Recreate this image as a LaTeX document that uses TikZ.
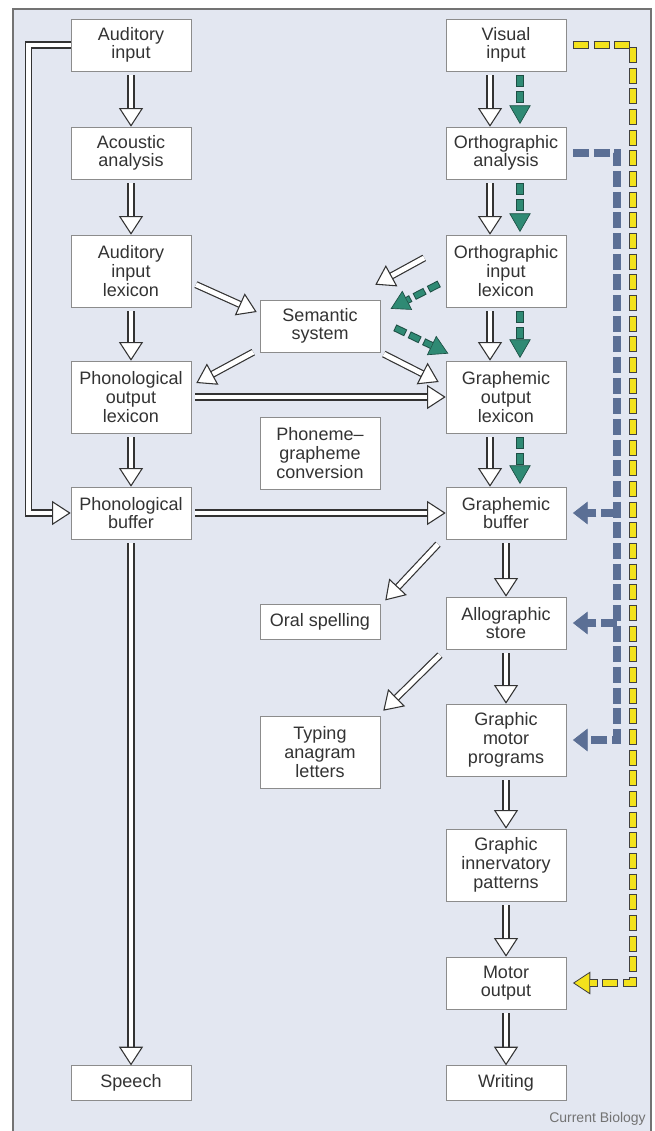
\documentclass[tikz,border=0pt]{standalone}
\usepackage{fontspec}
\setmainfont{Liberation Sans}
\usetikzlibrary{arrows.meta}
\definecolor{panel}{HTML}{E3E7F1}
\definecolor{ink}{HTML}{333333}
\definecolor{grnc}{HTML}{2F8A74}
\definecolor{grnd}{HTML}{1D4F44}
\definecolor{bluc}{HTML}{5B6F95}
\definecolor{ylwc}{HTML}{F3E21C}

\begin{document}
\begin{tikzpicture}[x=0.75pt, y=-0.75pt, font=\fontsize{13.5}{14}\selectfont,
                    box/.style={draw=black!45, fill=white, text=ink, align=center,
                                minimum width=90pt, minimum height=39pt, inner sep=1pt},
                    tall/.style={box, minimum height=54pt},
                    low/.style={box, minimum height=26pt},
                    hol/.style={draw=black!80, line width=0.9pt, double=white, double distance=3.6pt,
                                shorten <=3pt,
                                -{Triangle[length=14pt, width=18pt, fill=white, line width=0.8pt]}},
                    grn/.style={draw=grnd, line width=5.5pt, dash pattern=on 9pt off 3pt,
                                shorten <=3pt, shorten >=2pt,
                                -{Triangle[length=14pt, width=16pt, fill=grnc, line width=0.5pt]},
                                postaction={draw=grnc, line width=4pt, -, shorten >=16pt,
                                            dash pattern=on 7.5pt off 4.5pt, dash phase=11.25pt}},
                    blu/.style={draw=bluc, line width=6pt, dash pattern=on 12pt off 3.5pt, shorten >=5pt,
                                -{Triangle[length=11pt, width=17pt, line width=0.5pt]}},
                    ylw/.style={draw=black!75, line width=6pt, dash pattern=on 12pt off 3.5pt,
                                shorten <=5pt, shorten >=5pt,
                                -{Triangle[length=13pt, width=17pt, fill=ylwc, line width=0.6pt]},
                                postaction={draw=ylwc, line width=4.6pt, -, shorten >=18pt,
                                            dash pattern=on 10.6pt off 4.9pt, dash phase=14.8pt}}]
  \path[use as bounding box, fill=white] (0,0) rectangle (655,1131);
  \fill[panel] (13,9) rectangle (651,1131);
  \draw[black!55, line width=0.8pt] (13,1131) -- (13,9) -- (651,9) -- (651,1131);

  % spoken side
  \node[box]  (ai)  at (131,45)   {Auditory\\input};
  \node[box]  (aa)  at (131,153)  {Acoustic\\analysis};
  \node[tall] (ail) at (131,271)  {Auditory\\input\\lexicon};
  \node[tall] (pol) at (131,397)  {Phonological\\output\\lexicon};
  \node[box]  (pb)  at (131,513)  {Phonological\\buffer};
  \node[low]  (sp)  at (131,1083) {Speech};
  % middle
  \node[box]  (ss)  at (320,326)  {Semantic\\system};
  \node[tall] (pgc) at (320,453)  {Phoneme--\\grapheme\\conversion};
  \node[low]  (os)  at (320,622)  {Oral spelling};
  \node[tall] (tal) at (320,752)  {Typing\\anagram\\letters};
  % written side
  \node[box]  (vi)  at (506,45)   {Visual\\input};
  \node[box]  (oa)  at (506,153)  {Orthographic\\analysis};
  \node[tall] (oil) at (506,271)  {Orthographic\\input\\lexicon};
  \node[tall] (gol) at (506,397)  {Graphemic\\output\\lexicon};
  \node[box]  (gb)  at (506,513)  {Graphemic\\buffer};
  \node[box]  (as)  at (506,623)  {Allographic\\store};
  \node[tall] (gmp) at (506,740)  {Graphic\\motor\\programs};
  \node[tall] (gip) at (506,865)  {Graphic\\innervatory\\patterns};
  \node[box]  (mo)  at (506,983)  {Motor\\output};
  \node[low]  (wr)  at (506,1083) {Writing};

  \foreach \a/\b in {ai/aa, aa/ail, ail/pol, pol/pb, gb/as, as/gmp, gmp/gip, gip/mo, mo/wr}
    \draw[hol] (\a) -- (\b);
  \foreach \a/\b in {vi/oa, oa/oil, oil/gol, gol/gb} {
    \draw[hol] ([shift={(-16,0)}]\a.south) -- ([shift={(-16,0)}]\b.north);
    \draw[grn] ([shift={(14,0)}]\a.south) -- ([shift={(14,0)}]\b.north);
  }
  \draw[hol] (pol) -- (gol);
  \draw[hol] (pb) -- (gb);
  \draw[hol] (pb) -- (sp);
  \draw[hol, shorten <=0pt] (ai.west) -- ++(-42,0) |- (pb.west);
  \draw[hol] ([shift={(1,12)}]ail.east) -- ([shift={(-3,-14)}]ss.west);
  \draw[hol] ([shift={(-3,-2)}]ss.south west) -- ([shift={(5,-14)}]pol.east);
  \draw[hol] ([shift={(0,0)}]ss.south east) -- ([shift={(-7,-15)}]gol.west);
  \draw[hol] ([shift={(-18,-15)}]oil.west) -- ([shift={(-5,-15)}]ss.north east);
  \draw[grn] ([shift={(-3,11)}]oil.west) -- ([shift={(8,-16)}]ss.east);
  \draw[grn] ([shift={(11,0)}]ss.east) -- ([shift={(5,-6)}]gol.north west);
  \draw[hol] ([shift={(-5,2)}]gb.south west) -- ([shift={(5,-4)}]os.north east);
  \draw[hol] ([shift={(-3,3)}]as.south west) -- ([shift={(3,-5)}]tal.north east);

  % direct visual routes
  \coordinate (bx) at (617,153);
  \draw[blu, shorten <=5pt] (oa.east) -- (bx) |- (gmp.east);
  \draw[blu] (bx |- gb.east) -- (gb.east);
  \draw[blu] (bx |- as.east) -- (as.east);
  \coordinate (yx) at (633,45);
  \draw[ylw] (vi.east) -- (yx) |- (mo.east);

  \node[anchor=base east, text=black!55, inner sep=0pt, font=\fontsize{10.5}{12}\selectfont]
    (cb) at (646,1122) {Current Biology};
\end{tikzpicture}
\end{document}
